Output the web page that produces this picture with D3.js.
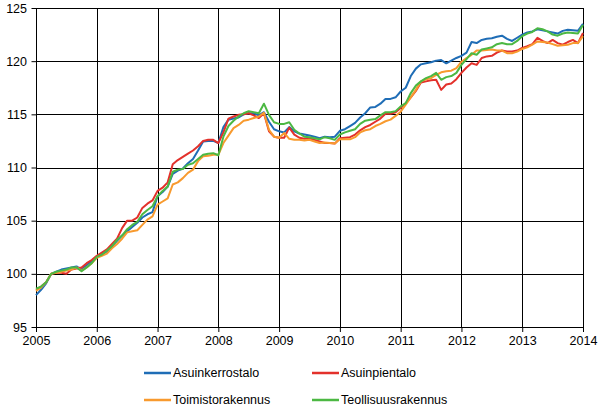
<!DOCTYPE html>
<html>
<head>
<meta charset="utf-8">
<script src="https://cdn.jsdelivr.net/npm/d3@7"></script>
<style>
  body { margin: 0; background: #fff; }
  text { font-family: "Liberation Sans", Arial, sans-serif; }
</style>
</head>
<body>
<div id="chart"></div>
<script>
// monthly index values, Jan 2005 .. Jan 2014
var asuinkerrostalo = [
  98.0, 98.5, 99.1, 100.0, 100.2, 100.4, 100.5, 100.6, 100.7, 100.4, 100.8, 101.2,
  101.6, 101.8, 102.1, 102.6, 103.1, 103.6, 104.0, 104.4, 104.8, 105.3, 105.6, 105.8,
  107.3, 107.7, 108.2, 109.4, 109.7, 109.9, 110.4, 110.8, 111.6, 112.45, 112.5, 112.5,
  112.3, 113.8, 114.5, 114.6, 114.7, 115.0, 115.1, 115.1, 114.9, 115.2, 114.3, 113.6,
  113.4, 113.3, 113.8, 113.4, 113.2, 113.1, 113.0, 112.9, 112.75, 112.9, 112.85, 112.9,
  113.45, 113.6, 113.9, 114.2, 114.7, 115.1, 115.65, 115.7, 116.0, 116.45, 116.45, 116.6,
  117.15, 117.5, 118.6, 119.3, 119.7, 119.8, 119.9, 120.05, 120.1, 119.8, 120.05, 120.3,
  120.5, 120.8, 121.8, 121.7, 122.0, 122.1, 122.15, 122.3, 122.4, 122.1, 121.9, 122.2,
  122.5, 122.7, 122.8, 123.0, 122.9, 122.8, 122.7, 122.6, 122.85, 122.95, 122.9, 122.85,
  123.5
];
var asuinpientalo = [
  98.5, 98.8, 99.2, 100.0, 100.1, 100.1, 100.0, 100.4, 100.5, 100.6, 101.0, 101.3,
  101.7, 102.0, 102.3, 102.8, 103.3, 104.3, 105.0, 105.0, 105.3, 106.2, 106.6, 106.9,
  107.8, 108.1, 108.6, 110.3, 110.7, 111.0, 111.3, 111.6, 112.0, 112.5, 112.6, 112.6,
  112.3, 113.3, 114.6, 114.8, 114.95, 115.0, 115.1, 114.9, 114.65, 115.1, 113.4, 112.9,
  112.8, 112.8, 113.75, 113.1, 112.8, 112.7, 112.75, 112.6, 112.45, 112.3, 112.3, 112.25,
  112.75, 112.8, 112.85, 113.1, 113.5, 113.8, 114.0, 114.3, 114.6, 115.05, 115.05, 115.2,
  115.6, 116.05, 116.6, 117.2, 118.0, 118.1, 118.2, 118.25, 117.3, 117.8, 117.9, 118.3,
  118.9, 119.4, 119.8, 119.65, 120.3, 120.45, 120.5, 120.8, 121.0, 120.9, 120.9, 121.0,
  121.25, 121.4, 121.6, 122.2, 121.9, 121.7, 122.0, 121.7, 121.55, 121.8, 122.0, 121.7,
  122.65
];
var toimistorakennus = [
  98.4, 98.7, 99.2, 100.0, 100.1, 100.2, 100.3, 100.4, 100.6, 100.3, 100.6, 101.0,
  101.5, 101.7, 101.9, 102.4, 102.8, 103.3, 103.9, 104.0, 104.1, 104.6, 105.1, 105.4,
  106.5, 106.8, 107.1, 108.4, 108.6, 109.0, 109.5, 109.8, 110.6, 111.05, 111.1, 111.2,
  111.2, 112.3, 113.0, 113.7, 114.0, 114.4, 114.5, 114.65, 114.8, 115.15, 113.55, 112.9,
  112.8, 113.25, 112.7, 112.6, 112.6, 112.55, 112.6, 112.45, 112.3, 112.35, 112.3, 112.25,
  112.65, 112.65, 112.65, 112.85, 113.3, 113.5, 113.6, 113.9, 114.1, 114.35, 114.5, 114.85,
  115.25, 115.9, 116.6, 117.3, 118.1, 118.3, 118.4, 118.7, 118.95, 119.05, 119.1, 119.35,
  119.95, 120.3, 120.6, 121.0, 121.0, 121.05, 121.1, 121.0, 121.0, 120.75, 120.75, 120.9,
  121.15, 121.3, 121.55, 121.85, 121.8, 121.75, 121.6, 121.45, 121.5, 121.55, 121.7, 121.7,
  122.35
];
var teollisuusrakennus = [
  98.6, 98.8, 99.2, 100.0, 100.2, 100.3, 100.4, 100.6, 100.6, 100.25, 100.6, 101.0,
  101.6, 101.8, 102.2, 102.6, 103.2, 103.6, 104.2, 104.6, 104.9, 105.6, 106.0, 106.35,
  107.3, 107.8, 108.2, 109.6, 109.8, 109.85, 110.25, 110.4, 110.8, 111.2, 111.3, 111.35,
  111.15, 112.9, 113.9, 114.4, 114.8, 115.1, 115.3, 115.2, 115.1, 116.0, 114.95, 114.25,
  114.1, 114.1, 114.25, 113.55, 113.2, 112.9, 112.85, 112.75, 112.65, 112.85, 112.75, 112.6,
  113.1, 113.3, 113.45, 113.6, 114.1, 114.4, 114.5, 114.55, 114.9, 115.2, 115.2, 115.3,
  115.75, 116.05, 117.0, 117.7, 118.1, 118.4, 118.6, 118.9, 118.25, 118.5, 118.6, 118.9,
  119.65, 120.2, 120.75, 120.6, 121.1, 121.2, 121.3, 121.6, 121.7, 121.6, 121.6, 121.9,
  122.35, 122.6, 122.75, 123.1, 123.0, 122.8, 122.5, 122.4, 122.6, 122.7, 122.65, 122.6,
  123.4
];
var seriesNames = ["Asuinkerrostalo", "Asuinpientalo", "Toimistorakennus", "Teollisuusrakennus"];
var colors = ["#1f6db6", "#e3312b", "#f89a2e", "#4cb843"];
var yearTicks = [2005, 2006, 2007, 2008, 2009, 2010, 2011, 2012, 2013, 2014];
var valueTicks = [95, 100, 105, 110, 115, 120, 125];

var allSeries = [asuinkerrostalo, asuinpientalo, toimistorakennus, teollisuusrakennus];

var W = 607, H = 418;
var margin = {top: 8, right: 24, bottom: 91, left: 36},
    width = W - margin.left - margin.right,
    height = H - margin.top - margin.bottom;

var svg = d3.select("#chart").append("svg")
    .attr("width", W)
    .attr("height", H);
var g = svg.append("g")
    .attr("transform", "translate(" + margin.left + "," + margin.top + ")");

var x = d3.scaleLinear().domain([2005, 2014]).range([0, width]);
var y = d3.scaleLinear().domain([95, 125]).range([height, 0]);

// grid
g.append("g")
  .selectAll("line.h")
  .data(valueTicks)
  .join("line")
    .attr("x1", 0).attr("x2", width)
    .attr("y1", d => Math.round(y(d)) + 0.5).attr("y2", d => Math.round(y(d)) + 0.5)
    .attr("stroke", "#000");
g.append("g")
  .selectAll("line.v")
  .data(yearTicks)
  .join("line")
    .attr("x1", d => Math.round(x(d)) + 0.5).attr("x2", d => Math.round(x(d)) + 0.5)
    .attr("y1", 0).attr("y2", height)
    .attr("stroke", "#000");

// axes
var yAxis = g.append("g")
  .call(d3.axisLeft(y).tickValues(valueTicks).tickSize(5).tickPadding(4));
var xAxis = g.append("g")
  .attr("transform", `translate(0, ${height})`)
  .call(d3.axisBottom(x).tickValues(yearTicks).tickFormat(d3.format("d")).tickSize(5).tickPadding(4));
[xAxis, yAxis].forEach(a => {
  a.select(".domain").remove();
  a.selectAll("line").attr("stroke", "#000");
  a.selectAll("text").attr("font-size", 12.5).attr("fill", "#000")
    .style("font-family", "'Liberation Sans', Arial, sans-serif");
});
yAxis.selectAll(".tick line").attr("transform", "translate(0.5,0)");

// lines
var line = d3.line()
  .x((d, i) => x(2005 + i / 12))
  .y(d => y(d));
g.append("g")
  .selectAll("path")
  .data(allSeries)
  .join("path")
    .attr("d", line)
    .attr("fill", "none")
    .attr("stroke", (d, i) => colors[i])
    .attr("stroke-width", 2)
    .attr("stroke-linejoin", "round");

// legend
var legendPos = [[144, 373], [312, 373], [144, 400], [312, 400]];
var legend = svg.append("g")
  .selectAll("g")
  .data(seriesNames)
  .join("g")
    .attr("transform", (d, i) => "translate(" + legendPos[i][0] + "," + legendPos[i][1] + ")");
legend.append("line")
  .attr("x1", 0).attr("x2", 27)
  .attr("stroke", (d, i) => colors[i])
  .attr("stroke-width", 2.5);
legend.append("text")
  .attr("x", 29)
  .attr("dy", "0.35em")
  .attr("font-size", 12.5)
  .text(d => d);
</script>
</body>
</html>
